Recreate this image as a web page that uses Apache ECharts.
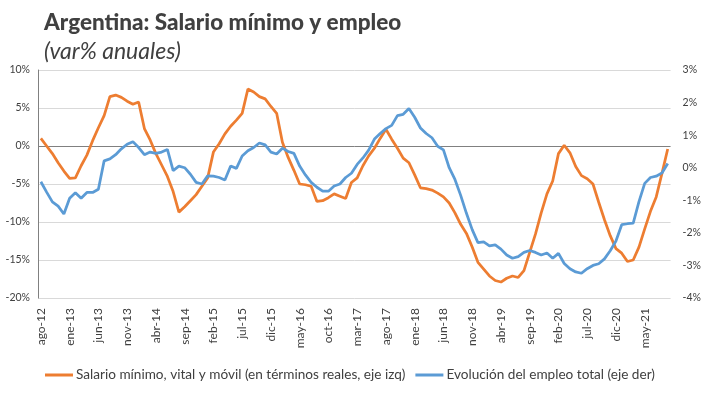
<!DOCTYPE html>
<html><head><meta charset="utf-8">
<script src="https://cdn.jsdelivr.net/npm/echarts@6/dist/echarts.min.js"></script>
<style>html,body{margin:0;padding:0;background:#fff}#c{width:704px;height:393px}</style>
</head><body><div id="c"></div>
<script>
const monthNames = ['ene','feb','mar','abr','may','jun','jul','ago','sep','oct','nov','dic'];
const startYear = 2012, startMonth = 7, monthCount = 110;
const categories = [];
for (let i = 0; i < monthCount; i++) {
  const m = (startMonth + i) % 12, y = startYear + Math.floor((startMonth + i) / 12);
  categories.push(monthNames[m] + '-' + String(y).slice(2));
}
const salario = [
  1.0, 0.0, -1.0, -2.2, -3.3, -4.25, -4.2, -2.6, -1.2, 0.7,
  2.4, 4.0, 6.5, 6.7, 6.4, 5.9, 5.5, 5.8, 2.3, 0.8,
  -1.0, -2.5, -4.0, -6.0, -8.7, -8.0, -7.2, -6.4, -5.3, -4.2,
  -0.8, 0.3, 1.6, 2.6, 3.4, 4.3, 7.5, 7.1, 6.5, 6.2,
  5.2, 4.3, 0.5, -1.5, -3.2, -5.0, -5.1, -5.3, -7.3, -7.2,
  -6.8, -6.3, -6.6, -6.9, -4.8, -4.2, -2.6, -1.3, -0.3, 1.0,
  2.2, 0.9, -0.3, -1.6, -2.2, -3.8, -5.5, -5.6, -5.8, -6.2,
  -6.7, -7.5, -8.8, -10.3, -11.5, -13.3, -15.3, -16.2, -17.1, -17.7,
  -17.9, -17.4, -17.1, -17.3, -16.4, -14.0, -11.6, -8.8, -6.3, -4.6,
  -1.0, 0.1, -0.9, -2.7, -3.9, -4.3, -5.0, -7.4, -9.7, -11.8,
  -13.5, -14.1, -15.2, -15.0, -13.3, -10.9, -8.6, -6.7, -3.6, -0.4
];
const empleo = [
  -0.43, -0.75, -1.05, -1.18, -1.42, -0.94, -0.77, -0.94, -0.76, -0.76,
  -0.66, 0.21, 0.27, 0.40, 0.58, 0.72, 0.80, 0.62, 0.40, 0.48,
  0.44, 0.48, 0.56, -0.09, 0.05, 0.0, -0.2, -0.45, -0.5, -0.25,
  -0.26, -0.3, -0.38, 0.05, -0.02, 0.36, 0.52, 0.62, 0.76, 0.70,
  0.48, 0.42, 0.60, 0.50, 0.44, 0.05, -0.22, -0.45, -0.6, -0.72,
  -0.72, -0.56, -0.5, -0.3, -0.17, 0.1, 0.3, 0.54, 0.88, 1.05,
  1.2, 1.3, 1.6, 1.64, 1.82, 1.55, 1.22, 1.05, 0.92, 0.66,
  0.55, 0.0, -0.36, -0.85, -1.4, -1.9, -2.3, -2.28, -2.4, -2.37,
  -2.5, -2.68, -2.78, -2.73, -2.6, -2.54, -2.6, -2.68, -2.62, -2.78,
  -2.63, -2.94, -3.1, -3.2, -3.24, -3.1, -3.0, -2.95, -2.8, -2.55,
  -2.25, -1.75, -1.72, -1.7, -1.04, -0.48, -0.3, -0.26, -0.16, 0.13
];
const titleText = 'Argentina: Salario mínimo y empleo';
const subtitleText = '(var% anuales)';
const seriesNames = ['Salario mínimo, vital y móvil (en términos reales, eje izq)', 'Evolución del empleo total (eje der)'];

const chart = echarts.init(document.getElementById('c'), null, {renderer: 'canvas'});
const font = 'Lato, "Open Sans", sans-serif';
chart.setOption({
  animation: false,
  textStyle: {fontFamily: font},
  title: {
    text: titleText, subtext: subtitleText, left: 39, top: 6, itemGap: 6,
    textStyle: {fontFamily: font, fontSize: 22.5, fontWeight: 900, color: '#404040'},
    subtextStyle: {fontFamily: font, fontSize: 23, fontStyle: 'italic', color: '#404040'}
  },
  legend: {
    top: 363, left: 40, itemGap: 10, itemWidth: 28, itemHeight: 3, icon: 'rect',
    textStyle: {fontFamily: font, fontSize: 13.6, color: '#404040', padding: [0, 0, 0, -2]},
    data: seriesNames
  },
  grid: {left: 38, right: 32, top: 70, bottom: 95, containLabel: false},
  xAxis: {
    type: 'category', data: categories, boundaryGap: true,
    axisLine: {show: false}, axisTick: {show: false},
    axisLabel: {interval: 4, rotate: 90, fontSize: 12, color: '#404040', margin: 10, fontFamily: font}
  },
  yAxis: [
    {
      type: 'value', min: -20, max: 10, interval: 5, position: 'left',
      axisLine: {show: true, lineStyle: {color: '#808080', width: 1}}, axisTick: {show: false},
      axisLabel: {formatter: v => v + '%', fontSize: 10.5, color: '#404040', margin: 8, fontFamily: font},
      splitLine: {show: true, lineStyle: {color: ['#d9d9d9','#d9d9d9','#d9d9d9','#d9d9d9','#808080','#d9d9d9','#d9d9d9'], width: 1}}
    },
    {
      type: 'value', min: -4, max: 3, interval: 1, position: 'right',
      axisLine: {show: false}, axisTick: {show: false},
      axisLabel: {formatter: v => v + '%', fontSize: 10.5, color: '#404040', margin: 12, fontFamily: font},
      splitLine: {show: false}
    }
  ],
  series: [
    {name: seriesNames[0], type: 'line', yAxisIndex: 0, data: salario, showSymbol: false, symbol: 'none',
     itemStyle: {color: '#ED7D31'}, lineStyle: {color: '#ED7D31', width: 2.75}, z: 2},
    {name: seriesNames[1], type: 'line', yAxisIndex: 1, data: empleo, showSymbol: false, symbol: 'none',
     itemStyle: {color: '#5B9BD5'}, lineStyle: {color: '#5B9BD5', width: 2.75}, z: 3}
  ]
});
</script></body></html>
